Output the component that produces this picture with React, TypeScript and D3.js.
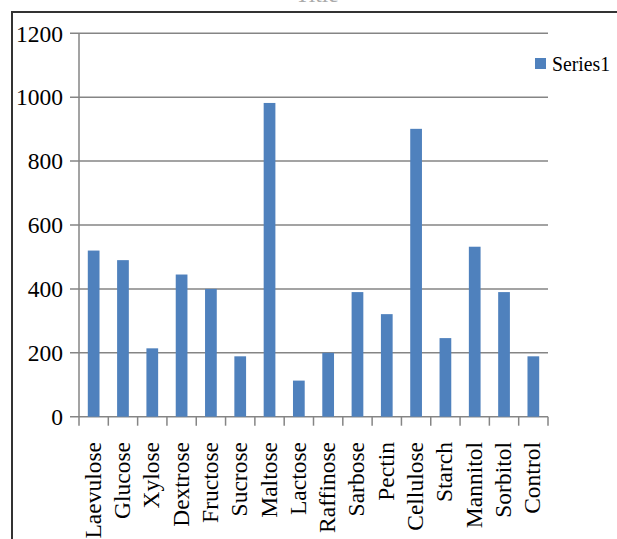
import React, { useRef, useEffect } from 'react';
import * as d3 from 'd3';

const categories = ['Laevulose', 'Glucose', 'Xylose', 'Dextrose', 'Fructose', 'Sucrose', 'Maltose', 'Lactose',
  'Raffinose', 'Sarbose', 'Pectin', 'Cellulose', 'Starch', 'Mannitol', 'Sorbitol', 'Control'];
const series1 = [520, 490, 214, 445, 400, 189, 982, 113, 200, 390, 321, 901, 246, 532, 390, 189];
const yTicks = [0, 200, 400, 600, 800, 1000, 1200];
const seriesName = 'Series1';

const App = () => {
  const svgRef = useRef<SVGSVGElement>(null);
  const width = 617;
  const height = 539;

  useEffect(() => {
    const svg = d3.select(svgRef.current);
    svg.selectAll('*').remove();

    const font = '"Liberation Serif", "Times New Roman", serif';
    const fs = '23.5px';
    const x = d3.scaleBand().domain(categories).range([79, 548]).padding(0);
    const y = d3.scaleLinear().domain([0, 1200]).range([416.7, 33.3]);
    const barW = x.bandwidth() * 0.4;

    // outer frame (partly cut off by the crop)
    svg.append('rect')
      .attr('x', 12).attr('y', 12).attr('width', 700).attr('height', 600)
      .attr('fill', 'none').attr('stroke', '#333').attr('stroke-width', 2);

    // title, mostly above the crop
    svg.append('text')
      .attr('x', 317).attr('y', 2)
      .attr('text-anchor', 'middle')
      .style('font-family', font).style('font-size', fs)
      .attr('fill', '#aaa')
      .text('Title');

    // gridlines + y ticks
    svg.append('g').selectAll('line')
      .data(yTicks)
      .enter().append('line')
      .attr('x1', 70).attr('x2', 548)
      .attr('y1', d => y(d)).attr('y2', d => y(d))
      .attr('stroke', '#858585').attr('stroke-width', 1.5);

    // y axis line
    svg.append('line')
      .attr('x1', 79).attr('x2', 79)
      .attr('y1', y(1200)).attr('y2', y(0))
      .attr('stroke', '#858585').attr('stroke-width', 1.5);

    // x ticks at category boundaries
    const bounds = categories.map(c => x(c)).concat([x.range()[1]]);
    svg.append('g').selectAll('line')
      .data(bounds)
      .enter().append('line')
      .attr('x1', d => d).attr('x2', d => d)
      .attr('y1', y(0)).attr('y2', y(0) + 9)
      .attr('stroke', '#858585').attr('stroke-width', 1.5);

    // y labels
    svg.append('g').selectAll('text')
      .data(yTicks)
      .enter().append('text')
      .attr('x', 63).attr('y', d => y(d))
      .attr('dy', '0.35em')
      .attr('text-anchor', 'end')
      .style('font-family', font).style('font-size', fs)
      .attr('fill', '#000')
      .text(d => d);

    // bars
    svg.append('g').selectAll('rect')
      .data(series1)
      .enter().append('rect')
      .attr('x', (d, i) => x(categories[i]) + x.bandwidth() / 2 - barW / 2)
      .attr('y', d => y(d))
      .attr('width', barW)
      .attr('height', d => y(0) - y(d))
      .attr('fill', '#4f81bd');

    // x labels, rotated
    svg.append('g').selectAll('text')
      .data(categories)
      .enter().append('text')
      .attr('transform', d => `translate(${x(d) + x.bandwidth() / 2 + 7}, 442) rotate(-90)`)
      .attr('text-anchor', 'end')
      .style('font-family', font).style('font-size', fs)
      .attr('fill', '#000')
      .text(d => d);

    // legend
    svg.append('rect')
      .attr('x', 535).attr('y', 58).attr('width', 11).attr('height', 11)
      .attr('fill', '#4f81bd');
    svg.append('text')
      .attr('x', 552).attr('y', 71)
      .attr('textLength', 58)
      .attr('lengthAdjust', 'spacingAndGlyphs')
      .style('font-family', font).style('font-size', '22px')
      .attr('fill', '#000')
      .text(seriesName);
  }, []);

  return (
    <div style={{ position: 'absolute', left: 0, top: 0 }}>
      <svg ref={svgRef} width={width} height={height} style={{ display: 'block', background: '#fff' }}></svg>
    </div>
  );
};

export default App;
